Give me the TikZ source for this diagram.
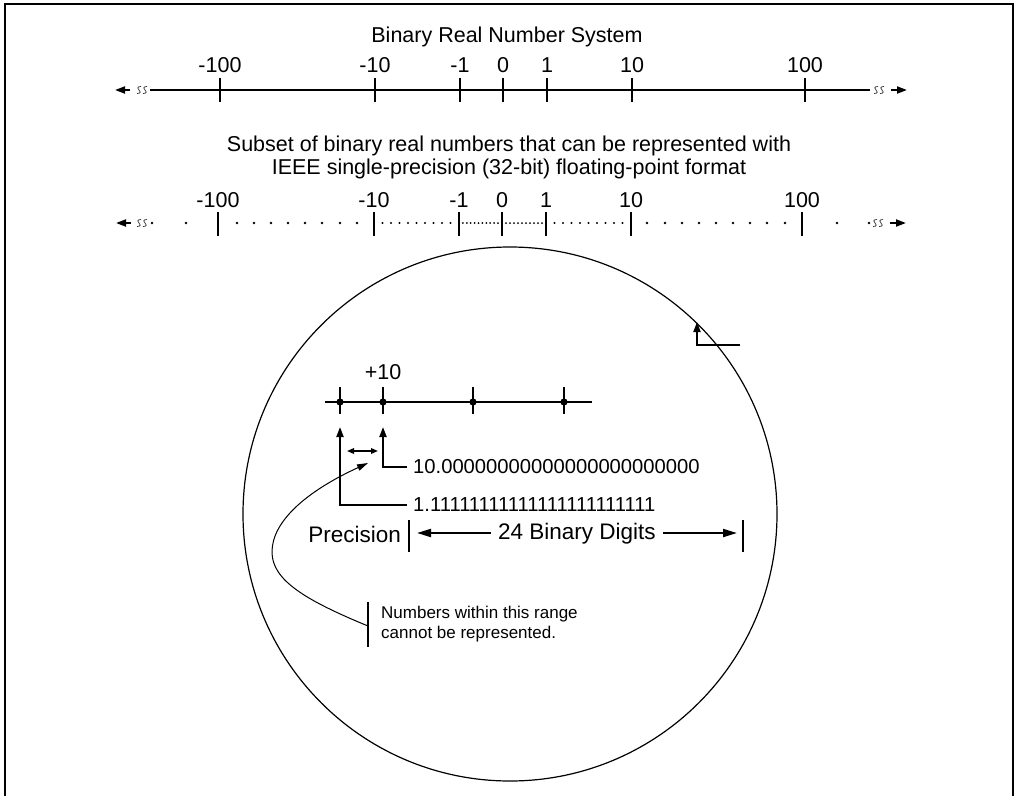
\documentclass[tikz,border=0pt]{standalone}
\usepackage{fontspec}
\setmainfont{Liberation Sans}
\usetikzlibrary{arrows.meta}
\begin{document}
\begin{tikzpicture}[x=1pt,y=-1pt,
  txt/.style={font=\fontsize{21.5}{25}\selectfont, inner sep=0pt},
  bigtxt/.style={font=\fontsize{22.5}{26}\selectfont, inner sep=0pt},
  bintxt/.style={font=\fontsize{20.2}{24}\selectfont, inner sep=0pt},
  smalltxt/.style={font=\fontsize{17}{20.5}\selectfont, inner sep=0pt, align=left},
  axisline/.style={line width=2pt},
  tickline/.style={line width=2.4pt},
  tipped/.style={-{Triangle[length=10pt,width=7pt]}},
  dotmark/.style={fill=black},
  brkmark/.pic={\draw[line width=0.7pt,black!80] (2,-3.5) .. controls (-2,-4) and (-2,-0.3) .. (0,0) .. controls (2,0.3) and (2,4) .. (-2,3.5);}
]
\useasboundingbox (0,0) rectangle (1018,796);
% frame
\draw[line width=2pt] (5,796) -- (5,4) -- (1013,4) -- (1013,796);

% ---------- top axis ----------
\node[txt] (title) at (507,37) {Binary Real Number System};
\coordinate (a1l) at (150,90);
\coordinate (a1r) at (870,90);
\draw[axisline] (a1l) -- (a1r);
\coordinate (a1al) at (130,90); \coordinate (a1alt) at (115,90);
\draw[axisline,tipped] (a1al) -- (a1alt);
\coordinate (a1ar) at (891,90); \coordinate (a1art) at (907,90);
\draw[axisline,tipped] (a1ar) -- (a1art);
\pic at (139,90) {brkmark}; \pic at (145,90) {brkmark};
\pic at (876,90) {brkmark}; \pic at (882,90) {brkmark};
\foreach \x/\l/\n in {220/-100/m100, 375/-10/m10, 460/-1/m1, 503/0/z, 547/1/p1, 632/10/p10, 805/100/p100}{
  \draw[tickline] (\x,78) -- (\x,102);
  \node[txt] (ta\n) at (\x,65) {\l};
}

% ---------- second axis ----------
\node[txt] (sub1) at (509,146) {Subset of binary real numbers that can be represented with};
\node[txt] (sub2) at (509,169) {IEEE single-precision (32-bit) floating-point format};
\coordinate (a2al) at (131,223); \coordinate (a2alt) at (116,223);
\draw[axisline,tipped] (a2al) -- (a2alt);
\coordinate (a2ar) at (890,223); \coordinate (a2art) at (906,223);
\draw[axisline,tipped] (a2ar) -- (a2art);
\pic at (139,223) {brkmark}; \pic at (145,223) {brkmark};
\pic at (875,223) {brkmark}; \pic at (881,223) {brkmark};
\foreach \x/\l/\n in {218/-100/m100, 374/-10/m10, 459/-1/m1, 502/0/z, 546/1/p1, 631/10/p10, 802/100/p100}{
  \draw[tickline] (\x,212) -- (\x,236);
  \node[txt] (tb\n) at (\x,200) {\l};
}
\foreach \x in {152,186,237,254,271,288,305,322,340,357,837,869}{\fill[dotmark] (\x,223) circle (1.3pt);}
\foreach \x in {647,665,682,699,716,733,750,767,785}{\fill[dotmark] (\x,223) circle (1.3pt);}
\foreach \k in {1,...,9}{\fill[dotmark] ({374+8.5*\k},223) circle (1.1pt);}
\foreach \k in {1,...,9}{\fill[dotmark] ({546+8.5*\k},223) circle (1.1pt);}
\foreach \k in {1,...,10}{\fill[dotmark] ({459+3.9*\k},223) circle (1pt);}
\foreach \k in {1,...,10}{\fill[dotmark] ({502+4*\k},223) circle (1pt);}

% ---------- magnifier circle ----------
\draw[line width=1.2pt] (510,514) circle[radius=267pt];
\coordinate (cs) at (740,345); \coordinate (cc) at (697,345); \coordinate (ct) at (697,322);
\draw[line width=2pt,tipped] (cs) -- (cc) -- (ct);

% inner number line
\coordinate (il) at (325,402); \coordinate (ir) at (592,402);
\draw[axisline] (il) -- (ir);
\foreach \x/\n in {340/q1, 383/q2, 473/q3, 564/q4}{
  \draw[tickline] (\x,387) -- (\x,414);
  \fill (\x,402) circle (3.6pt);
  \coordinate (\n) at (\x,427);
}
\node[txt] (plusten) at (383,372) {+10};

\node[bintxt,anchor=west] (ten) at (413,467) {10.00000000000000000000000};
\node[bintxt,anchor=west] (one) at (413,505) {1.11111111111111111111111};
\draw[line width=2pt,tipped] (ten.west) ++(-6,0) coordinate (tenL) -- (383,467) -- (q2);
\draw[line width=2pt,tipped] (one.west) ++(-6,0) coordinate (oneL) -- (340,505) -- (q1);

\coordinate (dl) at (347,451); \coordinate (dr) at (378,451);
\draw[line width=1.6pt,{Triangle[length=7pt,width=5.5pt]}-{Triangle[length=7pt,width=5.5pt]}] (dl) -- (dr);

% precision
\node[bigtxt,anchor=east] (prec) at (401,534) {Precision};
\draw[tickline] (409,520) -- (409,552);
\draw[tickline] (743,520) -- (743,552);
\node[bigtxt] (digits) at (577,534) {24 Binary Digits};
\coordinate (pl) at (417,533); \coordinate (pr) at (737,533);
\draw[line width=2pt,-{Triangle[length=14pt,width=8pt]}] (digits.west) ++(-7,-1) -- (pl);
\draw[line width=2pt,-{Triangle[length=14pt,width=8pt]}] (digits.east) ++(7,-1) -- (pr);

% note
\draw[line width=2pt] (368,602) -- (368,647);
\node[smalltxt,anchor=west] (note) at (381,624) {Numbers within this range\\cannot be represented.};
\coordinate (ns) at (368,626); \coordinate (nt) at (368,463);
\draw[line width=1pt,-{Triangle[length=11pt,width=6.5pt]}] (ns) .. controls (305,600) and (272,580) .. (272,552) .. controls (272,522) and (305,492) .. (nt);
\end{tikzpicture}
\end{document}
